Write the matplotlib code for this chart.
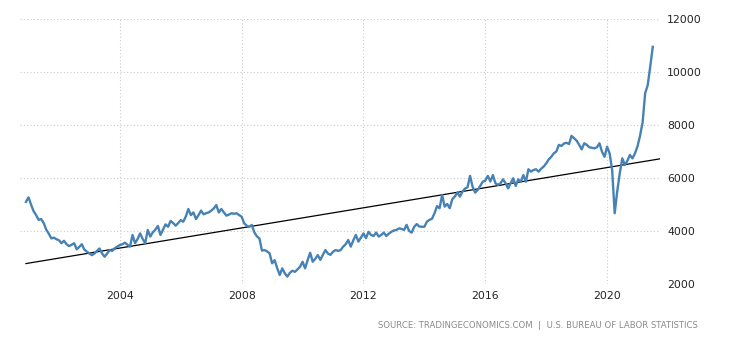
import numpy as np
import matplotlib
matplotlib.use("Agg")
import matplotlib.pyplot as plt

# Monthly job openings (thousands), Dec 2000 .. Jul 2021
start_year = 2000
start_month = 12
v2000 = [5100]
v2001 = [5270, 5000, 4750, 4600, 4420, 4450, 4300, 4050, 3900, 3720, 3750, 3690]
v2002 = [3650, 3540, 3630, 3500, 3430, 3480, 3540, 3310, 3400, 3500, 3300, 3220]
v2003 = [3150, 3090, 3150, 3250, 3340, 3150, 3030, 3150, 3280, 3250, 3350, 3410]
v2004 = [3470, 3500, 3560, 3480, 3410, 3850, 3540, 3700, 3910, 3700, 3540, 4040]
v2005 = [3790, 3950, 4050, 4190, 3850, 4050, 4250, 4160, 4380, 4300, 4200, 4300]
v2006 = [4410, 4350, 4550, 4830, 4600, 4700, 4450, 4600, 4770, 4630, 4670, 4700]
v2007 = [4770, 4850, 4980, 4700, 4830, 4700, 4580, 4620, 4670, 4650, 4670, 4600]
v2008 = [4540, 4290, 4200, 4160, 4230, 3950, 3800, 3720, 3260, 3280, 3230, 3160]
v2009 = [2780, 2900, 2600, 2340, 2590, 2400, 2280, 2420, 2500, 2460, 2550, 2650]
v2010 = [2840, 2590, 2900, 3180, 2840, 2950, 3090, 2910, 3100, 3280, 3150, 3100]
v2011 = [3220, 3280, 3250, 3280, 3410, 3500, 3660, 3410, 3650, 3850, 3600, 3750]
v2012 = [3910, 3730, 3970, 3850, 3810, 3940, 3790, 3850, 3940, 3810, 3900, 3970]
v2013 = [4020, 4040, 4100, 4080, 4040, 4230, 4000, 3940, 4160, 4260, 4170, 4160]
v2014 = [4160, 4350, 4420, 4460, 4670, 4940, 4860, 5360, 4920, 5020, 4860, 5200]
v2015 = [5300, 5450, 5300, 5480, 5600, 5650, 6080, 5670, 5450, 5550, 5700, 5860]
v2016 = [5900, 6080, 5870, 6110, 5800, 5740, 5800, 5950, 5800, 5610, 5800, 5990]
v2017 = [5700, 5950, 5860, 6110, 5860, 6330, 6240, 6300, 6330, 6240, 6350, 6430]
v2018 = [6550, 6700, 6800, 6930, 7000, 7250, 7210, 7300, 7330, 7280, 7590, 7500]
v2019 = [7410, 7250, 7080, 7310, 7250, 7160, 7140, 7120, 7160, 7310, 6990, 6800]
v2020 = [7180, 6930, 6300, 4670, 5500, 6180, 6740, 6490, 6650, 6870, 6740, 6930]
v2021 = [7200, 7600, 8100, 9200, 9500, 10200, 10950]

values = np.array(v2000 + v2001 + v2002 + v2003 + v2004 + v2005 + v2006 + v2007 +
                  v2008 + v2009 + v2010 + v2011 + v2012 + v2013 + v2014 + v2015 +
                  v2016 + v2017 + v2018 + v2019 + v2020 + v2021, dtype=float)
t = start_year + (start_month - 1) / 12 + np.arange(len(values)) / 12.0

x_ticks = [2004, 2008, 2012, 2016, 2020]
y_ticks = [2000, 4000, 6000, 8000, 10000, 12000]
source = "SOURCE: TRADINGECONOMICS.COM  |  U.S. BUREAU OF LABOR STATISTICS"

fig = plt.figure(figsize=(7.3, 3.4), dpi=100)
ax = fig.add_axes([20 / 730, 1 - 284 / 340, 640 / 730, 265 / 340])

xmin = 2004 - 100 / 30.5
xmax = 2020 + 53 / 30.5
ax.set_xlim(xmin, xmax)
ax.set_ylim(2000, 12000)

# trend line (least squares fit)
coef = np.polyfit(t, values, 1)
tt = np.array([t[0], xmax])
ax.plot(tt, np.polyval(coef, tt), color="black", lw=0.9, zorder=2)
ax.plot(t, values, color="#4682b4", lw=1.7, zorder=3, solid_joinstyle="round")

ax.set_xticks(x_ticks)
ax.set_xticklabels([str(x) for x in x_ticks])
ax.set_yticks(y_ticks)
ax.set_yticklabels([str(y) for y in y_ticks])
ax.yaxis.tick_right()
ax.tick_params(axis="both", length=0, labelsize=7.8, colors="#222222")
ax.tick_params(axis="y", pad=5)
ax.tick_params(axis="x", pad=5)
for s in ax.spines.values():
    s.set_visible(False)
ax.grid(True, color="#cccccc", linestyle=(0, (1, 2)), linewidth=0.8)
ax.set_axisbelow(True)

fig.text(698 / 730, 1 - 325 / 340, source, ha="right", va="center",
         fontsize=6.1, color="#8a8a8a")

fig.savefig("out.png", dpi=100)
